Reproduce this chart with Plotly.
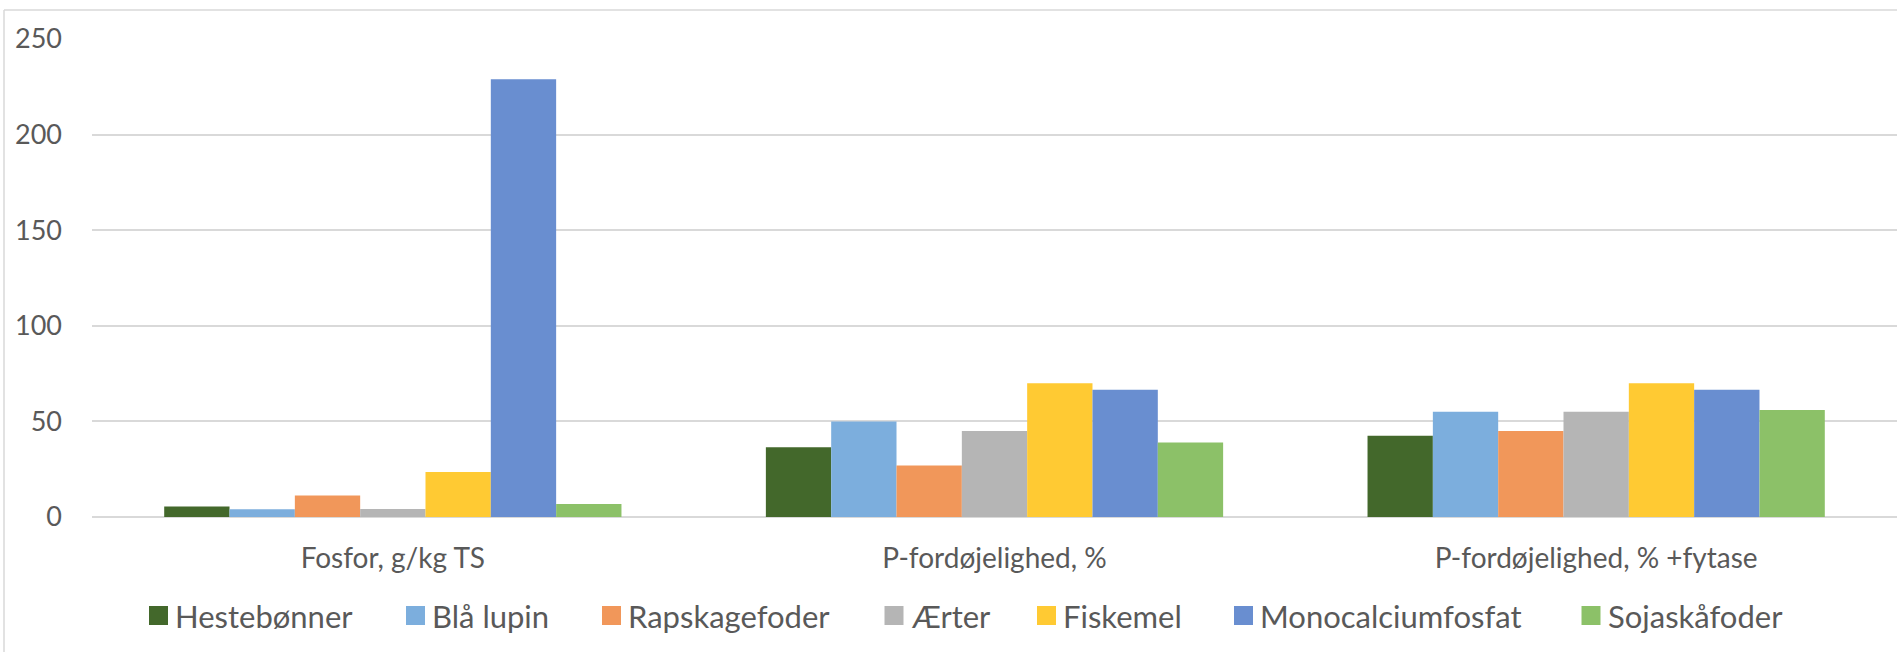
import plotly.graph_objects as go

categories = ["Fosfor, g/kg TS", "P-fordøjelighed, %", "P-fordøjelighed, % +fytase"]
series_names = ["Hestebønner", "Blå lupin", "Rapskagefoder", "Ærter", "Fiskemel",
                "Monocalciumfosfat", "Sojaskåfoder"]
hestebonner = [5.5, 36.5, 42.5]
bla_lupin = [4.0, 50, 55]
rapskagefoder = [11.2, 27, 45]
aerter = [4.2, 45, 55]
fiskemel = [23.5, 70, 70]
monocalciumfosfat = [229, 66.5, 66.5]
sojaskafoder = [6.8, 39, 56]
series_values = [hestebonner, bla_lupin, rapskagefoder, aerter, fiskemel,
                 monocalciumfosfat, sojaskafoder]
colors = ["#43682B", "#7CAEDD", "#F1975A", "#B5B5B5", "#FFCA33", "#698ED0", "#8CC168"]
y_ticks = [0, 50, 100, 150, 200, 250]

W, H = 1897, 652
PL, PR, PT, PB = 92, W, 39, 517  # plot area in pixels
FONT = "Lato"
TXT = "#595959"
FS_LEG = 31
FS_CAT = 28
FS_TICK = 27

fig = go.Figure()
for name, vals, col in zip(series_names, series_values, colors):
    fig.add_trace(go.Bar(name=name, x=categories, y=vals, marker_color=col,
                         marker_line_width=0, showlegend=False))

def px_x(x):
    return (x - PL) / (PR - PL)

def px_y(y):
    return (PB - y) / (PB - PT)

shapes = [
    dict(type="line", xref="paper", yref="paper", x0=px_x(4), x1=px_x(1960),
         y0=px_y(10), y1=px_y(10), line=dict(color="#D9D9D9", width=1.5)),
    dict(type="line", xref="paper", yref="paper", x0=px_x(4), x1=px_x(4),
         y0=px_y(10), y1=px_y(700), line=dict(color="#D9D9D9", width=1.5)),
]
annotations = []
legend_left = [149, 406, 602, 884.5, 1037, 1234, 1581.5]
leg_cy = 615.5
msz = 19
for name, col, lx in zip(series_names, colors, legend_left):
    shapes.append(dict(type="rect", xref="paper", yref="paper",
                       x0=px_x(lx), x1=px_x(lx + msz),
                       y0=px_y(leg_cy - msz / 2), y1=px_y(leg_cy + msz / 2),
                       fillcolor=col, line=dict(width=0)))
    annotations.append(dict(text=name, xref="paper", yref="paper",
                            x=px_x(lx + 24), y=px_y(leg_cy), xanchor="left",
                            yanchor="middle", showarrow=False,
                            font=dict(family=FONT, size=FS_LEG, color=TXT)))

fig.update_layout(
    width=W, height=H,
    margin=dict(l=PL, r=W - PR, t=PT, b=H - PB, pad=0),
    paper_bgcolor="white", plot_bgcolor="white",
    barmode="group", bargap=0.24, bargroupgap=0,
    font=dict(family=FONT, size=FS_CAT, color=TXT),
    shapes=shapes, annotations=annotations,
    showlegend=False,
)
fig.update_xaxes(showgrid=False, showline=False, zeroline=False, ticks="",
                 tickfont=dict(family=FONT, size=FS_CAT, color=TXT),
                 ticklabelstandoff=22)
fig.update_yaxes(range=[0, 250], tickvals=y_ticks, showgrid=True,
                 gridcolor="#D9D9D9", gridwidth=1.5, zeroline=True,
                 zerolinecolor="#D9D9D9", zerolinewidth=1.5, showline=False,
                 ticks="", tickfont=dict(family=FONT, size=FS_TICK, color=TXT),
                 ticklabelstandoff=29)

fig.write_html("out.html", config={"displayModeBar": False},
               post_script="document.body.style.margin='0';document.body.style.overflow='hidden';")
